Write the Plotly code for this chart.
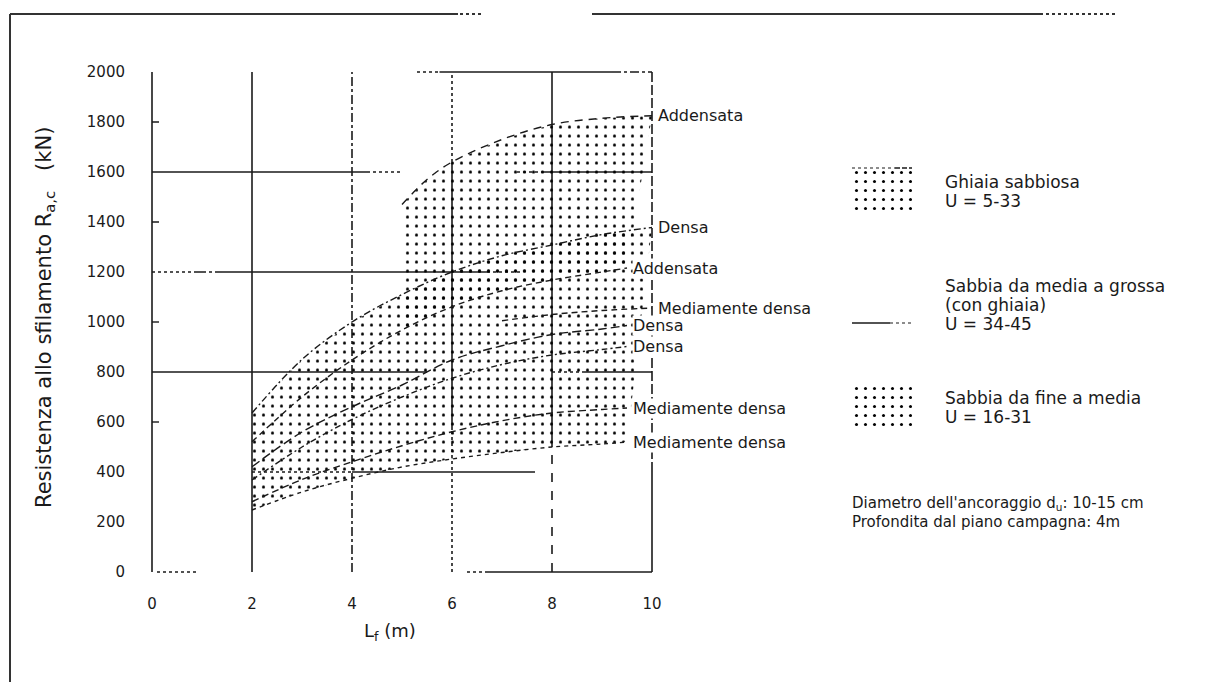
import plotly.graph_objects as go

# ---- axes -------------------------------------------------------------
x_ticks = [0, 2, 4, 6, 8, 10]
y_ticks = list(range(0, 2001, 200))

# ---- curves: fixed-anchor length L_f (m) vs pull-out resistance (kN) ----
# Ghiaia sabbiosa
gravel_add_x = [5.0, 5.5, 6, 7, 8, 9, 10]
gravel_add_y = [1470, 1570, 1640, 1730, 1790, 1815, 1825]
gravel_densa_x = [2, 3, 4, 5, 6, 7, 8, 9, 10]
gravel_densa_y = [636, 850, 1000, 1110, 1200, 1265, 1308, 1350, 1378]
gravel_md_x = [7, 8, 9, 10]
gravel_md_y = [1005, 1030, 1046, 1056]
# Sabbia da media a grossa
sand_add_x = [2, 3, 4, 5, 6, 7, 8, 9, 9.5]
sand_add_y = [521, 700, 848, 968, 1061, 1125, 1168, 1200, 1216]
sand_densa_x = [2, 3, 4, 5, 6, 7, 8, 9, 9.5]
sand_densa_y = [421, 560, 661, 748, 848, 905, 950, 972, 986]
sand_md_x = [2, 3, 4, 5, 6, 7, 8, 9, 9.5]
sand_md_y = [281, 370, 441, 505, 561, 605, 636, 650, 656]
# Sabbia da fine a media
fine_densa_x = [2, 3, 4, 5, 6, 7, 8, 9, 9.5]
fine_densa_y = [368, 500, 610, 700, 775, 830, 868, 890, 902]
fine_md_x = [2, 3, 4, 5, 6, 7, 8, 9, 9.5]
fine_md_y = [248, 320, 375, 420, 452, 478, 500, 512, 520]

curves = [
    (gravel_add_x, gravel_add_y, "Addensata", "8px,6px"),
    (gravel_densa_x, gravel_densa_y, "Densa", "7px,3px,2px,3px"),
    (gravel_md_x, gravel_md_y, "Mediamente densa", "6px,4px"),
    (sand_add_x, sand_add_y, "Addensata", "6px,4px"),
    (sand_densa_x, sand_densa_y, "Densa", "9px,4px"),
    (fine_densa_x, fine_densa_y, "Densa", "6px,3px,2px,3px"),
    (sand_md_x, sand_md_y, "Mediamente densa", "7px,4px"),
    (fine_md_x, fine_md_y, "Mediamente densa", "4px,4px"),
]

# ---- partial grid lines of the chart: (x0, y0, x1, y1, dash) ----------
grid_segments = [
    (0, 0, 0, 2000, "solid"),
    (2, 0, 2, 2000, "solid"),
    (4, 0, 4, 2000, "dashdot"),
    (6, 1640, 6, 2000, "dot"), (6, 568, 6, 1640, "solid"), (6, 0, 6, 568, "dot"),
    (8, 500, 8, 2000, "solid"), (8, 0, 8, 500, "dash"),
    (10, 400, 10, 2000, "10px,3px"), (10, 0, 10, 400, "solid"),
    (5.3, 2000, 5.75, 2000, "dot"), (5.75, 2000, 9.2, 2000, "solid"), (9.2, 2000, 10, 2000, "dashdot"),
    (0, 1600, 4.3, 1600, "solid"), (4.3, 1600, 5.0, 1600, "dot"),
    (7.3, 1600, 7.8, 1600, "dot"), (7.8, 1600, 10, 1600, "solid"),
    (0, 1200, 0.9, 1200, "dot"), (0.9, 1200, 1.4, 1200, "dashdot"),
    (1.4, 1200, 6.7, 1200, "solid"), (6.7, 1200, 7.4, 1200, "dot"),
    (0, 800, 5.5, 800, "solid"), (8.0, 800, 8.6, 800, "dot"), (8.6, 800, 10, 800, "solid"),
    (2, 400, 4, 400, "dot"), (4, 400, 7.66, 400, "solid"),
    (0.1, 0, 0.9, 0, "dot"), (6.3, 0, 6.7, 0, "dot"), (6.7, 0, 10, 0, "solid"),
]
axis_minor_ticks = [600, 1000, 1400, 1800]

FONT = "DejaVu Sans"
INK = "#1a1a1a"
W, H = 1205, 682

stipple = dict(shape=".", fgcolor="#000", bgcolor="rgba(255,255,255,0)",
               size=9, solidity=0.09, fillmode="replace")

fig = go.Figure()

# stippled bands
band_gravel_x = gravel_add_x + [x for x in sand_add_x if x >= 5][::-1]
band_gravel_y = gravel_add_y + [y for x, y in zip(sand_add_x, sand_add_y) if x >= 5][::-1]
band_sand_x = gravel_densa_x + fine_md_x[::-1]
band_sand_y = gravel_densa_y + fine_md_y[::-1]
for bx, by in [(band_gravel_x, band_gravel_y), (band_sand_x, band_sand_y)]:
    fig.add_trace(go.Scatter(x=bx, y=by, fill="toself", mode="none",
                             fillcolor="rgba(255,255,255,0)", fillpattern=stipple,
                             hoverinfo="skip", showlegend=False))

# curves
for cx, cy, label, dash in curves:
    fig.add_trace(go.Scatter(x=cx, y=cy, mode="lines", line=dict(color=INK, width=1.4, dash=dash),
                             line_shape="spline", showlegend=False, hoverinfo="skip"))
    fig.add_annotation(x=cx[-1] + 0.1, y=cy[-1], xref="x", yref="y", text=label,
                       showarrow=False, xanchor="left", yanchor="middle",
                       bgcolor="white", borderpad=0,
                       font=dict(family=FONT, size=16, color=INK))

# grid segments
for x0, y0, x1, y1, dash in grid_segments:
    fig.add_shape(type="line", xref="x", yref="y", x0=x0, y0=y0, x1=x1, y1=y1,
                  line=dict(color=INK, width=1.6, dash=dash), layer="below")
for yt in axis_minor_ticks:
    fig.add_shape(type="line", xref="x", yref="y", x0=0, y0=yt, x1=0.14, y1=yt,
                  line=dict(color=INK, width=1.4))

# outer frame fragments (pixel positions on the page)
def px(x):
    return x / W

def py(y):
    return 1 - y / H

frame = [
    (10, 14, 458, 14, "solid"), (460, 14, 482, 14, "dot"),
    (592, 14, 1040, 14, "solid"), (1040, 14, 1116, 14, "dot"),
    (10, 14, 10, 682, "solid"),
]
for x0, y0, x1, y1, dash in frame:
    fig.add_shape(type="line", xref="paper", yref="paper",
                  x0=px(x0), y0=py(y0), x1=px(x1), y1=py(y1),
                  line=dict(color="#333", width=2, dash=dash))

# legend swatches on an auxiliary axis (units: page pixels)
fig.add_trace(go.Scatter(x=[0, 60, 60, 0, 0], y=[168, 168, 212, 212, 168], xaxis="x2", yaxis="y2",
                         fill="toself", mode="none", fillcolor="rgba(255,255,255,0)",
                         fillpattern=stipple, showlegend=False, hoverinfo="skip"))
fig.add_trace(go.Scatter(x=[0, 43], y=[168, 168], xaxis="x2", yaxis="y2", mode="lines",
                         line=dict(color=INK, width=1.2, dash="dot"), showlegend=False, hoverinfo="skip"))
fig.add_trace(go.Scatter(x=[43, 60], y=[168, 168], xaxis="x2", yaxis="y2", mode="lines",
                         line=dict(color=INK, width=1.4, dash="5px,2px"), showlegend=False, hoverinfo="skip"))
fig.add_trace(go.Scatter(x=[0, 38], y=[323, 323], xaxis="x2", yaxis="y2", mode="lines",
                         line=dict(color=INK, width=1.6), showlegend=False, hoverinfo="skip"))
fig.add_trace(go.Scatter(x=[38, 60], y=[323, 323], xaxis="x2", yaxis="y2", mode="lines",
                         line=dict(color=INK, width=1.2, dash="dot"), showlegend=False, hoverinfo="skip"))
fig.add_trace(go.Scatter(x=[0, 60, 60, 0, 0], y=[383, 383, 427, 427, 383], xaxis="x2", yaxis="y2",
                         fill="toself", mode="none", fillcolor="rgba(255,255,255,0)",
                         fillpattern=stipple, showlegend=False, hoverinfo="skip"))

legend_text = [
    (182, "Ghiaia sabbiosa"), (201, "U = 5-33"),
    (286, "Sabbia da media a grossa"), (305, "(con ghiaia)"), (324, "U = 34-45"),
    (398, "Sabbia da fine a media"), (417, "U = 16-31"),
]
for yy, t in legend_text:
    fig.add_annotation(x=px(943), y=py(yy), xref="paper", yref="paper", text=t, showarrow=False,
                       xanchor="left", yanchor="middle", font=dict(family=FONT, size=17, color=INK))

notes = [
    (503, "Diametro dell'ancoraggio d<sub>u</sub>: 10-15 cm"),
    (522, "Profondita dal piano campagna: 4m"),
]
for yy, t in notes:
    fig.add_annotation(x=px(850), y=py(yy), xref="paper", yref="paper", text=t, showarrow=False,
                       xanchor="left", yanchor="middle", font=dict(family=FONT, size=15, color=INK))

# axis titles
fig.add_annotation(x=px(45), y=py(318), xref="paper", yref="paper", textangle=-90,
                   text="Resistenza allo sfilamento R<sub>a,c</sub>\u00a0\u00a0\u00a0(kN)",
                   showarrow=False, xanchor="center", yanchor="middle",
                   font=dict(family=FONT, size=21, color=INK))
fig.add_annotation(x=px(390), y=py(632), xref="paper", yref="paper",
                   text="L<sub>f</sub> (m)", showarrow=False, xanchor="center", yanchor="middle",
                   font=dict(family=FONT, size=18, color=INK))

# x=0 at 152 px, x=10 at 652 px; y=0 at 572 px, y=2000 at 72 px
x_rng = [-0.2, 10.4]
y_rng = [-50, 2050]
fig.update_layout(
    width=W, height=H, margin=dict(l=0, r=0, t=0, b=0),
    paper_bgcolor="white", plot_bgcolor="rgba(0,0,0,0)",
    xaxis=dict(range=x_rng, domain=[px(152 - 10), px(652 + 20)], tickvals=x_ticks,
               showgrid=False, zeroline=False, showline=False, ticks="",
               ticklabelstandoff=8, tickfont=dict(family=FONT, size=15, color=INK)),
    yaxis=dict(range=y_rng, domain=[py(572 + 12.5), py(72 - 12.5)], tickvals=y_ticks,
               showgrid=False, zeroline=False, showline=False, ticks="",
               ticklabelstandoff=16, tickfont=dict(family=FONT, size=15, color=INK)),
    xaxis2=dict(domain=[px(852), px(912)], range=[0, 60], visible=False, anchor="y2"),
    yaxis2=dict(domain=[py(440), py(150)], range=[440, 150], visible=False, anchor="x2"),
    showlegend=False,
)

fig.write_html("out.html")
